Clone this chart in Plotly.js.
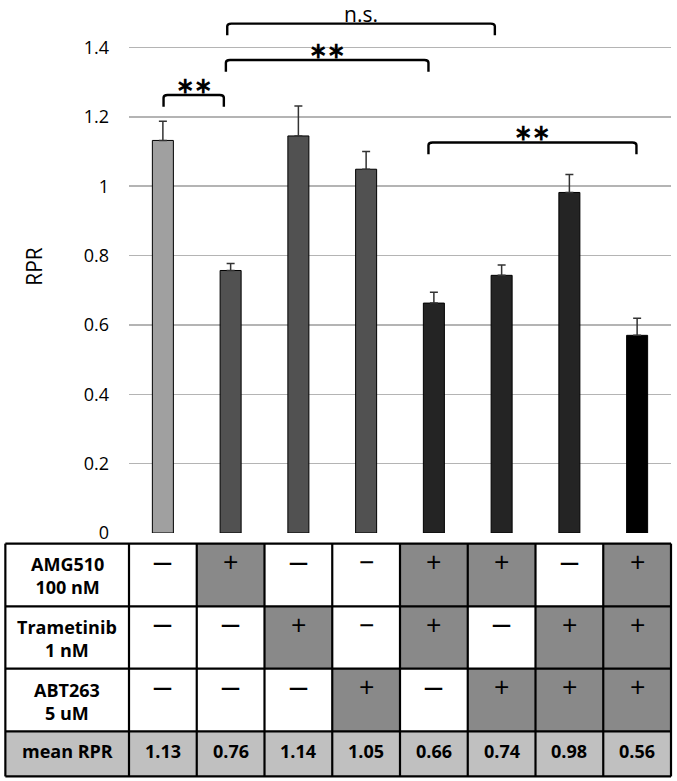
<!DOCTYPE html>
<html>
<head>
<meta charset="utf-8">
<script src="https://cdn.plot.ly/plotly-3.0.1.min.js"></script>
<style>html,body{margin:0;padding:0;background:#fff;}#chart{width:677px;height:781px;}</style>
</head>
<body>
<div id="chart"></div>
<script>
// ---- data ----
const conditions = [0, 1, 2, 3, 4, 5, 6, 7];
const rprValues = [1.132, 0.757, 1.145, 1.049, 0.663, 0.743, 0.982, 0.570];
const rprErrors = [0.055, 0.020, 0.086, 0.051, 0.031, 0.030, 0.052, 0.049];
const barColors = ['#a0a0a0', '#515151', '#515151', '#515151', '#242424', '#242424', '#242424', '#000000'];
const yTickVals = [0, 0.2, 0.4, 0.6, 0.8, 1.0, 1.2, 1.4];
const yTickText = ['0', '0.2', '0.4', '0.6', '0.8', '1', '1.2', '1.4'];

const rowLabels = ['<b>AMG510</b><br><b>100 nM</b>', '<b>Trametinib</b><br><b>1 nM</b>', '<b>ABT263</b><br><b>5 uM</b>'];
const amg510Marks     = ['bold-', '+', 'bold-', '-', '+', '+', 'bold-', '+'];
const trametinibMarks = ['bold-', 'bold-', '+', '-', '+', 'bold-', '+', '+'];
const abt263Marks     = ['bold-', 'bold-', 'bold-', '+', 'bold-', '+', '+', '+'];
const meanRowLabel = '<b>mean RPR</b>';
const meanRPR = ['1.13', '0.76', '1.14', '1.05', '0.66', '0.74', '0.98', '0.56'];

const bracketLeft  = [0.01, 0.93, 0.95, 3.92];
const bracketRight = [0.90, 3.92, 4.90, 6.99];
const bracketTop   = [1.263, 1.364, 1.469, 1.126];
const bracketLabels = ['**', '**', 'n.s.', '**'];

// ---- layout geometry ----
const FONT = '"Open Sans", sans-serif';
const W = 677, H = 781;
const mL = 128.5, mR = 5.8, mT = 0, mB = 248.3;
const plotW = W - mL - mR, plotH = H - mT - mB;
const yMax = 1.537;
const px2x = px => (px - mL) / plotW;
const px2y = py => (H - mB - py) / plotH;
const colW = plotW / 8;
const tableLeft = 4.7;
const rowEdges = [543.3, 606, 668.3, 731, 776];

const shapes = [];
const annotations = [];
function note(o) {
  annotations.push(Object.assign({showarrow: false, xanchor: 'center', yanchor: 'middle'}, o));
}

// brackets
const leg = 0.034;
for (let i = 0; i < bracketLeft.length; i++) {
  const a = bracketLeft[i], b = bracketRight[i], t = bracketTop[i];
  const rx = 0.06, ry = 0.008;
  shapes.push({
    type: 'path', xref: 'x', yref: 'y',
    path: `M ${a} ${t - leg} L ${a} ${t - ry} Q ${a} ${t} ${a + rx} ${t} L ${b - rx} ${t} Q ${b} ${t} ${b} ${t - ry} L ${b} ${t - leg}`,
    line: {color: '#000', width: 2.4}
  });
  const isStar = bracketLabels[i] === '**';
  note({
    xref: 'x', yref: 'y', x: (a + b) / 2, y: t + (isStar ? 0.033 : 0.028),
    text: isStar ? '<b>∗∗</b>' : bracketLabels[i],
    font: {family: FONT, size: isStar ? 22 : 21, color: '#000'}
  });
}

// table fills
const markRows = [amg510Marks, trametinibMarks, abt263Marks];
const colLeft = c => mL + colW * c;
function rect(x0p, x1p, y0p, y1p, fill) {
  shapes.push({type: 'rect', xref: 'paper', yref: 'paper', layer: 'below',
    x0: px2x(x0p), x1: px2x(x1p), y0: px2y(y1p), y1: px2y(y0p),
    fillcolor: fill, line: {width: 0}});
}
for (let r = 0; r < 3; r++) {
  rect(tableLeft, mL, rowEdges[r], rowEdges[r + 1], '#ffffff');
  for (let c = 0; c < 8; c++) {
    rect(colLeft(c), colLeft(c + 1), rowEdges[r], rowEdges[r + 1], markRows[r][c] === '+' ? '#898989' : '#ffffff');
    const m = markRows[r][c];
    let txt, size;
    if (m === '+') { txt = '+'; size = 27; }
    else if (m === '-') { txt = '−'; size = 27; }
    else { txt = '<b>—</b>'; size = 19; }
    note({xref: 'paper', yref: 'paper', x: px2x(colLeft(c) + colW / 2), y: px2y(rowEdges[r] + 18),
      text: txt, font: {family: FONT, size: size, color: '#000'}});
  }
  note({xref: 'paper', yref: 'paper', x: px2x((tableLeft + mL) / 2), y: px2y((rowEdges[r] + rowEdges[r + 1]) / 2 + 1),
    text: rowLabels[r], align: 'center',
    font: {family: FONT, size: 18, color: '#000'}});
}
rect(tableLeft, colLeft(8), rowEdges[3], rowEdges[4], '#c0c0c0');
note({xref: 'paper', yref: 'paper', x: px2x((tableLeft + mL) / 2), y: px2y(751),
  text: meanRowLabel, font: {family: FONT, size: 18, color: '#000'}});
for (let c = 0; c < 8; c++) {
  note({xref: 'paper', yref: 'paper', x: px2x(colLeft(c) + colW / 2), y: px2y(751),
    text: '<b>' + meanRPR[c] + '</b>', font: {family: FONT, size: 18, color: '#000'}});
}
// table grid lines
for (let r = 0; r < rowEdges.length; r++) {
  shapes.push({type: 'line', xref: 'paper', yref: 'paper', x0: px2x(tableLeft), x1: px2x(colLeft(8)),
    y0: px2y(rowEdges[r]), y1: px2y(rowEdges[r]), line: {color: '#000', width: 2.2}});
}
const vEdges = [tableLeft];
for (let c = 0; c <= 8; c++) vEdges.push(colLeft(c));
vEdges.forEach(xp => shapes.push({type: 'line', xref: 'paper', yref: 'paper', x0: px2x(xp), x1: px2x(xp),
  y0: px2y(rowEdges[0]), y1: px2y(rowEdges[4]), line: {color: '#000', width: 2.2}}));

const trace = {
  type: 'bar', x: conditions, y: rprValues, width: 0.31,
  marker: {color: barColors, line: {color: '#000', width: 1}},
  error_y: {type: 'data', array: rprErrors, arrayminus: rprErrors.map(() => 0), symmetric: false,
    color: '#333', thickness: 1.5, width: 4},
  hoverinfo: 'none'
};

const layout = {
  width: W, height: H,
  margin: {l: mL, r: mR, t: mT, b: mB, pad: 0},
  paper_bgcolor: '#fff', plot_bgcolor: '#fff',
  showlegend: false,
  font: {family: FONT, color: '#000'},
  xaxis: {range: [-0.5, 7.5], showticklabels: false, showgrid: false, zeroline: false, showline: false, ticks: '', fixedrange: true},
  yaxis: {range: [0, yMax], tickvals: yTickVals, ticktext: yTickText, showgrid: true, gridcolor: '#b4b4b4', gridwidth: 1.5,
    zeroline: false, showline: false, ticks: '', ticklabelstandoff: 19,
    tickfont: {family: FONT, size: 18, color: '#000'},
    title: {text: 'RPR', font: {family: FONT, size: 21, color: '#000'}, standoff: 35}},
  shapes: shapes,
  annotations: annotations
};

Plotly.newPlot('chart', [trace], layout, {staticPlot: true, displayModeBar: false});
</script>
</body>
</html>
